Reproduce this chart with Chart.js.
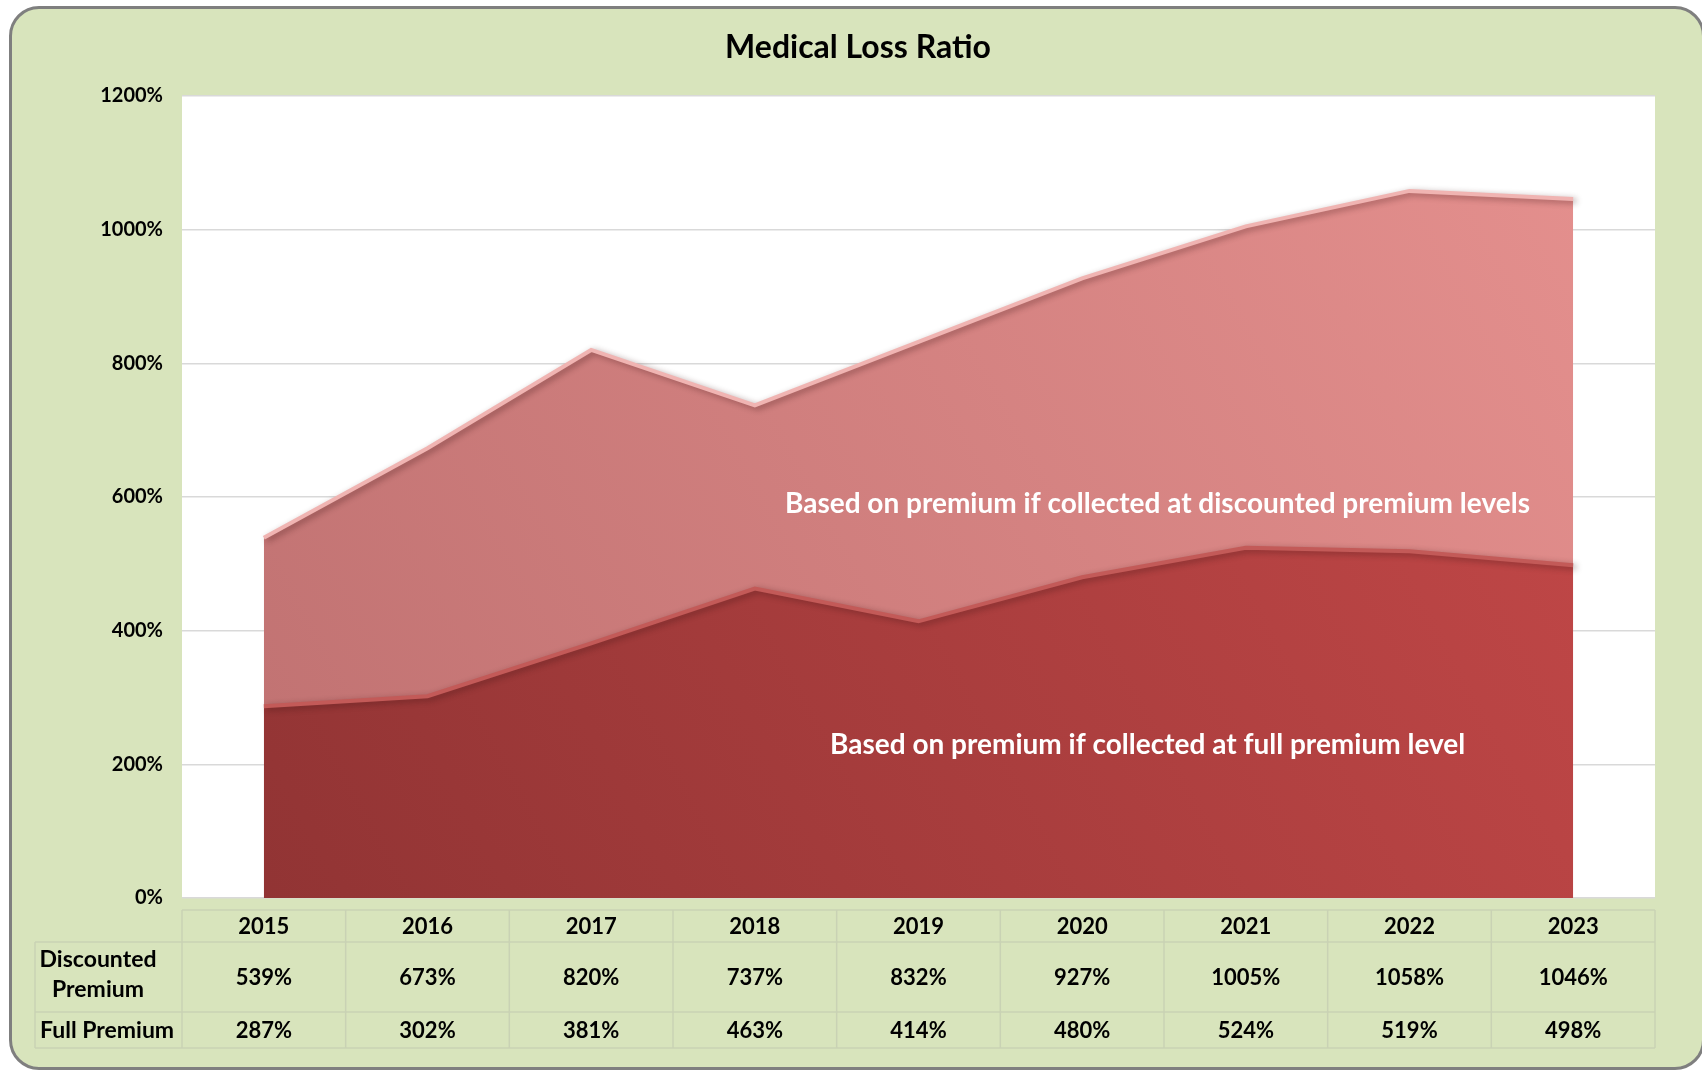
<!DOCTYPE html>
<html>
<head>
<meta charset="utf-8">
<script src="https://cdn.jsdelivr.net/npm/chart.js@4"></script>
<style>
  body { margin: 0; background: #ffffff; }
  #frame {
    position: absolute; left: 9px; top: 6px; width: 1690px; height: 1058px;
    border: 3px solid #7f7f7f; border-radius: 30px; background: #d8e4bc;
  }
  #chart { position: absolute; left: 0; top: 0; }
</style>
</head>
<body>
<div id="frame"></div>
<canvas id="chart" width="1702" height="1072"></canvas>
<script>
// Medical Loss Ratio
var years = ['2015', '2016', '2017', '2018', '2019', '2020', '2021', '2022', '2023'];
var discountedPremium = [539, 673, 820, 737, 832, 927, 1005, 1058, 1046];
var fullPremium = [287, 302, 381, 463, 414, 480, 524, 519, 498];
var rowLabels = [['Discounted', 'Premium'], ['Full Premium']];

var FONT = 'Lato, "Open Sans", sans-serif';

function gradFill(ctx, from, to) {
    var area = ctx.chart.chartArea;
    if (!area) return from;
    var g = ctx.chart.ctx.createLinearGradient(area.left, area.bottom, area.right, area.top);
    g.addColorStop(0, from);
    g.addColorStop(1, to);
    return g;
}

// shadow + title + labels + data table
var extras = {
    id: 'extras',
    beforeDatasetDraw: function (chart) {
        var c = chart.ctx;
        c.save();
        c.shadowColor = 'rgba(60,20,20,0.45)';
        c.shadowBlur = 6;
        c.shadowOffsetX = 3;
        c.shadowOffsetY = 2;
    },
    afterDatasetDraw: function (chart) {
        chart.ctx.restore();
    },
    afterDraw: function (chart) {
        var c = chart.ctx;
        var x = chart.scales.x, y = chart.scales.y, a = chart.chartArea;
        c.save();
        // title
        c.fillStyle = '#000';
        c.font = 'bold 32px ' + FONT;
        c.textAlign = 'center';
        c.textBaseline = 'middle';
        c.fillText('Medical Loss Ratio', 858, 48);

        // in-chart labels
        c.fillStyle = '#ffffff';
        c.font = 'bold 28px ' + FONT;
        c.fillText('Based on premium if collected at discounted premium levels', x.getPixelForValue(5.46), y.getPixelForValue(590));
        c.fillText('Based on premium if collected at full premium level', x.getPixelForValue(5.40), y.getPixelForValue(229));

        // data table
        var rows = [910, 942, 1012, 1048];
        var colW = (a.right - a.left) / years.length;
        c.strokeStyle = '#c9d2b4';
        c.lineWidth = 1.5;
        c.beginPath();
        for (var i = 0; i <= years.length; i++) {
            var lx = a.left + i * colW;
            c.moveTo(lx, rows[0]); c.lineTo(lx, rows[3]);
        }
        c.moveTo(a.left, rows[0]); c.lineTo(a.right, rows[0]);
        for (var r = 1; r < rows.length; r++) {
            c.moveTo(35, rows[r]); c.lineTo(a.right, rows[r]);
        }
        c.moveTo(35, rows[1]); c.lineTo(35, rows[3]);
        c.stroke();

        c.fillStyle = '#000';
        c.font = 'bold 22px ' + FONT;
        c.textAlign = 'center';
        years.forEach(function (yr, i) {
            var cx = x.getPixelForValue(i);
            c.fillText(yr, cx, (rows[0] + rows[1]) / 2 + 1);
            c.fillText(discountedPremium[i] + '%', cx, (rows[1] + rows[2]) / 2 + 1);
            c.fillText(fullPremium[i] + '%', cx, (rows[2] + rows[3]) / 2 + 1);
        });
        c.font = 'bold 23px ' + FONT;
        c.fillText(rowLabels[0][0], 98, 960);
        c.fillText(rowLabels[0][1], 98, 990);
        c.textAlign = 'left';
        c.fillText(rowLabels[1][0], 40, (rows[2] + rows[3]) / 2 + 1);
        c.restore();
    }
};

var chart = new Chart(document.getElementById('chart').getContext('2d'), {
    type: 'line',
    data: {
        labels: years,
        datasets: [{
            label: 'Full Premium',
            data: fullPremium,
            fill: 'origin',
            backgroundColor: function (ctx) { return gradFill(ctx, '#8f3333', '#c84a4a'); },
            borderColor: '#c35a58',
            borderWidth: 4,
            pointRadius: 0,
            tension: 0
        }, {
            label: 'Discounted Premium',
            data: discountedPremium,
            fill: 'origin',
            backgroundColor: function (ctx) { return gradFill(ctx, '#be7070', '#e6918f'); },
            borderColor: '#f0b4b2',
            borderWidth: 4,
            pointRadius: 0,
            tension: 0
        }]
    },
    options: {
        responsive: false,
        animation: false,
        layout: { padding: { left: 0, top: 96, right: 47, bottom: 174 } },
        plugins: {
            legend: { display: false },
            tooltip: { enabled: false }
        },
        scales: {
            x: {
                offset: true,
                grid: { display: false },
                border: { display: false },
                ticks: { display: false },
                afterFit: function (s) { s.height = 0; }
            },
            y: {
                min: 0,
                max: 1200,
                ticks: {
                    stepSize: 200,
                    padding: 19,
                    color: '#000',
                    font: { family: FONT, size: 20, weight: 'bold' },
                    callback: function (v) { return v + '%'; }
                },
                grid: { color: '#d9d9d9', lineWidth: 1.5, drawTicks: false },
                border: { display: false },
                afterFit: function (s) { s.width = 182; }
            }
        }
    },
    plugins: [{
        id: 'plotBg',
        beforeDraw: function (chart) {
            var a = chart.chartArea, c = chart.ctx;
            c.save();
            c.fillStyle = '#ffffff';
            c.fillRect(a.left, a.top, a.right - a.left, a.bottom - a.top);
            c.restore();
        }
    }, extras]
});
</script>
</body>
</html>
